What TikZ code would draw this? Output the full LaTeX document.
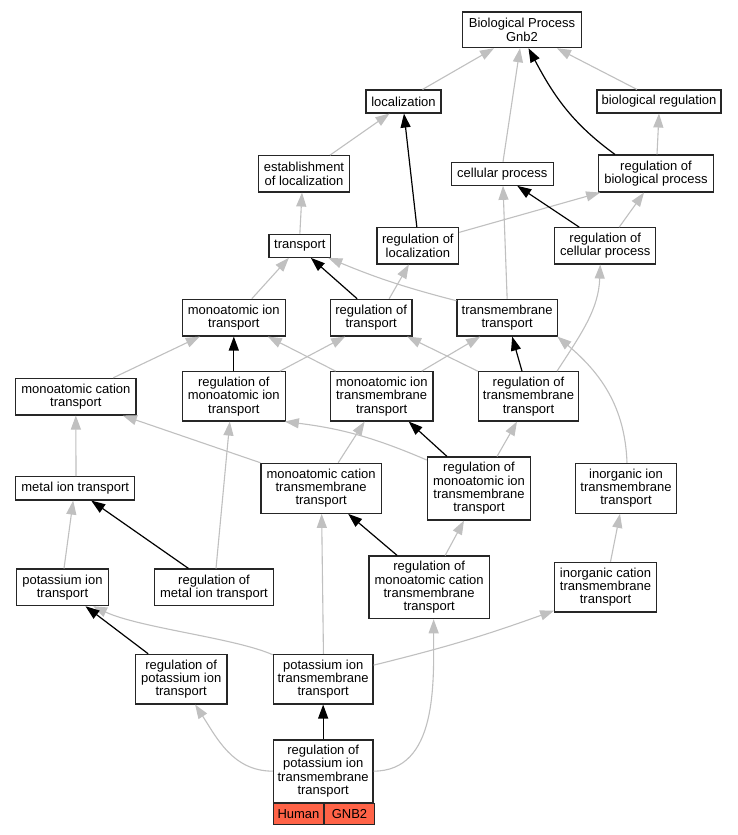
\documentclass[tikz,border=0pt]{standalone}
\usepackage{fontspec}
\setmainfont{Liberation Sans}
\usetikzlibrary{arrows.meta}
\definecolor{edgegray}{HTML}{C0C0C0}
\definecolor{tomatoc}{HTML}{FF6347}
\begin{document}
\begin{tikzpicture}[x=1pt,y=-1pt,
  box/.style 2 args={draw=black!85, line width=1.1pt, fill=white, inner sep=0pt, align=center,
    font=\fontsize{13}{13.3}\selectfont, minimum width=#1pt, minimum height=#2pt},
  cell/.style 2 args={draw=black!85, line width=1.1pt, fill=tomatoc, inner sep=0pt, align=center,
    font=\fontsize{13}{13.3}\selectfont, minimum width=#1pt, minimum height=#2pt, anchor=north west},
  ge/.style={draw=edgegray, line width=1.1pt, -{Triangle[length=14pt,width=10pt]}},
  be/.style={draw=black, line width=1.2pt, -{Triangle[length=14pt,width=10pt]}}
]
\useasboundingbox[fill=white] (0,0) rectangle (737,835);

% nodes
\node[box={118.6}{35.7}] (bp) at (522,29.85) {Biological Process\\Gnb2};
\node[box={75}{23}] (loc) at (403.5,101.5) {localization};
\node[box={124}{23}] (bioreg) at (659,101.5) {biological regulation};
\node[box={90.6}{36.3}] (estab) at (304,173.85) {establishment\\of localization};
\node[box={102}{23}] (cellp) at (502.3,173.8) {cellular process};
\node[box={114.6}{37}] (rbp) at (656,173.5) {regulation of\\biological process};
\node[box={61.7}{23}] (transport) at (299.85,245.8) {transport};
\node[box={81.7}{36.3}] (rloc) at (417.85,245.85) {regulation of\\localization};
\node[box={101}{36.3}] (rcp) at (605.2,245.85) {regulation of\\cellular process};
\node[box={103}{36.7}] (mit) at (233.8,317.65) {monoatomic ion\\transport};
\node[box={81.7}{36.7}] (rt) at (371.15,317.65) {regulation of\\transport};
\node[box={100.3}{36.7}] (tmt) at (507.15,317.65) {transmembrane\\transport};
\node[box={120.3}{36.7}] (mct) at (75.85,396.65) {monoatomic cation\\transport};
\node[box={103}{49.3}] (rmit) at (233.8,396.35) {regulation of\\monoatomic ion\\transport};
\node[box={102.7}{49.3}] (mitt) at (381.65,396.35) {monoatomic ion\\transmembrane\\transport};
\node[box={100.4}{49.3}] (rtt) at (528.5,396.35) {regulation of\\transmembrane\\transport};
\node[box={119}{23.3}] (metal) at (75.2,488.35) {metal ion transport};
\node[box={120.3}{50}] (mctt) at (321.15,488.3) {monoatomic cation\\transmembrane\\transport};
\node[box={103.4}{63}] (rmitt) at (479,488.5) {regulation of\\monoatomic ion\\transmembrane\\transport};
\node[box={100.6}{50}] (iitt) at (626,488.3) {inorganic ion\\transmembrane\\transport};
\node[box={91.6}{36.7}] (kt) at (62.5,587.35) {potassium ion\\transport};
\node[box={119.4}{36.7}] (rmetal) at (214,587.35) {regulation of\\metal ion transport};
\node[box={120.3}{62.7}] (rmctt) at (429.15,587.35) {regulation of\\monoatomic cation\\transmembrane\\transport};
\node[box={101.6}{49.7}] (ictt) at (605.5,587.15) {inorganic cation\\transmembrane\\transport};
\node[box={91.7}{49.7}] (rkt) at (181.15,679.15) {regulation of\\potassium ion\\transport};
\node[box={99.7}{49.7}] (ktt) at (323.15,679.15) {potassium ion\\transmembrane\\transport};
\node[box={99.7}{62.3}] (rktt) at (323.15,771.15) {regulation of\\potassium ion\\transmembrane\\transport};
\node[cell={50.4}{21.4}] (human) at (rktt.south west) {Human};
\node[cell={49.3}{21.4}] (gnb) at (human.north east) {GNB2};

% gray edges
\draw[ge] ([xshift=19pt]loc.north) -- ([xshift=-28pt]bp.south);
\draw[ge] ([xshift=0.7pt]cellp.north) -- ([xshift=-2pt]bp.south);
\draw[ge] ([xshift=-22pt]bioreg.north) -- ([xshift=35pt]bp.south);
\draw[ge] ([xshift=1pt]rbp.north) -- (bioreg.south);
\draw[ge] ([xshift=26pt]estab.north) -- ([xshift=-14pt]loc.south);
\draw[ge] (transport.north) -- ([xshift=-2pt]estab.south);
\draw[ge] ([yshift=13.5pt]rloc.east) -- ([xshift=2pt]rbp.south west);
\draw[ge] ([xshift=14pt]rcp.north) -- ([xshift=-12pt]rbp.south);
\draw[ge] (tmt.north) -- ([xshift=0.7pt]cellp.south);
\draw[ge] ([xshift=18pt]mit.north) -- ([xshift=-11pt]transport.south);
\draw[ge] ([xshift=18pt]rt.north) -- ([xshift=-9pt]rloc.south);
\draw[ge] ([yshift=-2pt]tmt.north west) to[bend left=4] ([xshift=-3pt]transport.south east);
\draw[ge] ([xshift=46pt]rmit.north) -- ([xshift=-26pt]rt.south);
\draw[ge] ([xshift=-46pt]mitt.north) -- ([xshift=34pt]mit.south);
\draw[ge] ([xshift=40pt]mitt.north) -- ([xshift=-27pt]tmt.south);
\draw[ge] (rtt.north west) -- ([xshift=36pt]rt.south);
\draw[ge] ([xshift=28.5pt]rtt.north) to[out=57,in=-92] ([xshift=-5pt]rcp.south);
\draw[ge] ([xshift=1pt]iitt.north) to[out=92,in=-40] ([xshift=-0.5pt]tmt.south east);
\draw[ge] ([xshift=37.5pt]mct.north) -- ([xshift=-34pt]mit.south);
\draw[ge] ([xshift=0.8pt]metal.north) -- (mct.south);
\draw[ge] (mctt.north west) -- ([xshift=47pt]mct.south);
\draw[ge] ([xshift=17pt]mctt.north) -- ([xshift=-17pt]mitt.south);
\draw[ge] ([yshift=28.5pt]rmitt.west) to[bend right=8] ([xshift=-1pt]rmit.south east);
\draw[ge] ([xshift=18pt]rmitt.north) -- ([xshift=-11.5pt]rtt.south);
\draw[ge] ([xshift=2pt]rmetal.north) -- ([xshift=-4pt]rmit.south);
\draw[ge] ([xshift=1.5pt]kt.north) -- ([xshift=-2pt]metal.south);
\draw[ge] ([xshift=16pt]rmctt.north) -- ([xshift=-15pt]rmitt.south);
\draw[ge] ([xshift=5pt]ictt.north) -- ([xshift=-6pt]iitt.south);
\draw[ge] ([yshift=-1pt]ktt.north west) .. controls (235,638) and (140,628) .. ([xshift=30.5pt]kt.south);
\draw[ge] ([xshift=0.3pt]ktt.north) -- ([xshift=0.5pt]mctt.south);
\draw[ge] ([yshift=14pt]ktt.east) to[bend right=3] ([yshift=2pt]ictt.south west);
\draw[ge] (rktt.west) to[out=180,in=-57] ([xshift=14pt]rkt.south);
\draw[ge] (rktt.east) to[out=0,in=-90] ([xshift=4.5pt]rmctt.south);

% black edges
\draw[be] ([xshift=-41pt]rbp.north) to[out=144,in=-62] ([xshift=6.5pt]bp.south);
\draw[be] ([xshift=-1pt]rloc.north) -- ([xshift=0.5pt]loc.south);
\draw[be] ([xshift=-26pt]rcp.north) -- ([xshift=15pt]cellp.south);
\draw[be] ([xshift=-14pt]rt.north) -- ([xshift=11pt]transport.south);
\draw[be] (rmit.north) -- (mit.south);
\draw[be] ([xshift=-6.5pt]rtt.north) -- ([xshift=5pt]tmt.south);
\draw[be] ([xshift=-32pt]rmitt.north) -- ([xshift=27pt]mitt.south);
\draw[be] ([xshift=-25.5pt]rmetal.north) -- ([xshift=16pt]metal.south);
\draw[be] ([xshift=-32pt]rmctt.north) -- ([xshift=27pt]mctt.south);
\draw[be] ([xshift=-33pt]rkt.north) -- ([xshift=23pt]kt.south);
\draw[be] (rktt.north) -- (ktt.south);
\end{tikzpicture}
\end{document}
